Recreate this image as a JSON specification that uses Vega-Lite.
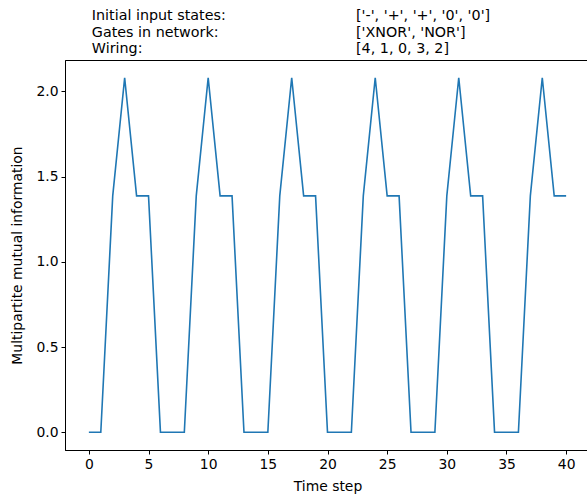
{
  "$schema": "https://vega.github.io/schema/vega-lite/v6.json",
  "width": 525,
  "height": 390,
  "autosize": {"type": "none"},
  "padding": {"left": 65, "top": 60, "right": 0, "bottom": 50},
  "background": "white",
  "config": {
    "font": "DejaVu Sans",
    "view": {"stroke": "#000", "strokeWidth": 1},
    "axis": {
      "grid": false,
      "domainColor": "#000",
      "domainWidth": 1,
      "tickColor": "#000",
      "tickSize": 4,
      "tickWidth": 1,
      "labelFont": "DejaVu Sans",
      "labelFontSize": 13.9,
      "labelColor": "#000",
      "labelPadding": 3,
      "titleFont": "DejaVu Sans",
      "titleFontSize": 13.9,
      "titleFontWeight": "normal",
      "titleColor": "#000"
    }
  },
  "layer": [
    {
      "data": {
        "values": [
          {"t": 0, "mi": 0}, {"t": 1, "mi": 0}, {"t": 2, "mi": 1.3863}, {"t": 3, "mi": 2.0794},
          {"t": 4, "mi": 1.3863}, {"t": 5, "mi": 1.3863}, {"t": 6, "mi": 0}, {"t": 7, "mi": 0},
          {"t": 8, "mi": 0}, {"t": 9, "mi": 1.3863}, {"t": 10, "mi": 2.0794}, {"t": 11, "mi": 1.3863},
          {"t": 12, "mi": 1.3863}, {"t": 13, "mi": 0}, {"t": 14, "mi": 0}, {"t": 15, "mi": 0},
          {"t": 16, "mi": 1.3863}, {"t": 17, "mi": 2.0794}, {"t": 18, "mi": 1.3863}, {"t": 19, "mi": 1.3863},
          {"t": 20, "mi": 0}, {"t": 21, "mi": 0}, {"t": 22, "mi": 0}, {"t": 23, "mi": 1.3863},
          {"t": 24, "mi": 2.0794}, {"t": 25, "mi": 1.3863}, {"t": 26, "mi": 1.3863}, {"t": 27, "mi": 0},
          {"t": 28, "mi": 0}, {"t": 29, "mi": 0}, {"t": 30, "mi": 1.3863}, {"t": 31, "mi": 2.0794},
          {"t": 32, "mi": 1.3863}, {"t": 33, "mi": 1.3863}, {"t": 34, "mi": 0}, {"t": 35, "mi": 0},
          {"t": 36, "mi": 0}, {"t": 37, "mi": 1.3863}, {"t": 38, "mi": 2.0794}, {"t": 39, "mi": 1.3863},
          {"t": 40, "mi": 1.3863}
        ]
      },
      "mark": {"type": "line", "color": "#1f77b4", "strokeWidth": 1.6},
      "encoding": {
        "x": {
          "field": "t", "type": "quantitative",
          "scale": {"domain": [-2, 42], "nice": false, "zero": false},
          "axis": {"values": [0, 5, 10, 15, 20, 25, 30, 35, 40], "title": "Time step", "titlePadding": 9}
        },
        "y": {
          "field": "mi", "type": "quantitative",
          "scale": {"domain": [-0.104, 2.1834], "nice": false, "zero": false},
          "axis": {"values": [0, 0.5, 1, 1.5, 2], "format": ".1f", "title": "Multipartite mutual information", "titlePadding": 11}
        }
      }
    },
    {
      "data": {"values": [{"label": "Initial input states:\nGates in network:\nWiring:"}]},
      "mark": {"type": "text", "align": "left", "baseline": "alphabetic", "font": "DejaVu Sans", "fontSize": 14.3, "fontWeight": "normal", "lineHeight": 16.7, "lineBreak": "\n", "color": "#000"},
      "encoding": {
        "x": {"datum": 0.25},
        "y": {"datum": 2.418},
        "text": {"field": "label"}
      }
    },
    {
      "data": {"values": [{"label": "['-', '+', '+', '0', '0']\n['XNOR', 'NOR']\n[4, 1, 0, 3, 2]"}]},
      "mark": {"type": "text", "align": "left", "baseline": "alphabetic", "font": "DejaVu Sans", "fontSize": 14.3, "fontWeight": "normal", "lineHeight": 16.7, "lineBreak": "\n", "color": "#000"},
      "encoding": {
        "x": {"datum": 22.39},
        "y": {"datum": 2.418},
        "text": {"field": "label"}
      }
    }
  ]
}
